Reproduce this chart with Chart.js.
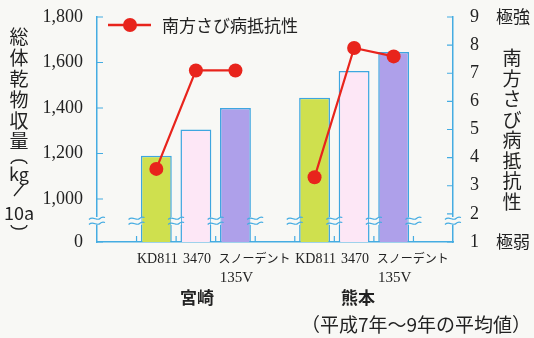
<!DOCTYPE html>
<html>
<head>
<meta charset="utf-8">
<script src="https://cdn.jsdelivr.net/npm/chart.js@4"></script>
<style>
  html, body { margin: 0; padding: 0; background: #f8f8f5; }
  #wrap { width: 534px; height: 338px; }
</style>
</head>
<body>
<div id="wrap"><canvas id="chart" width="534" height="338"></canvas></div>
<script>
// data
const varieties = ['KD811', '3470', ['スノーデント', '135V']];
const regions = ['宮崎', '熊本'];
const yieldMiyazaki = [1190, 1305, 1400];
const yieldKumamoto = [1445, 1563, 1646];
const rustMiyazaki = [3.6, 7.1, 7.1];
const rustKumamoto = [3.3, 7.9, 7.6];
const yieldTicks = [1000, 1200, 1400, 1600, 1800];
const rustTicks = [1, 2, 3, 4, 5, 6, 7, 8, 9];
const rustEnds = { 9: '極強', 1: '極弱' };
const rustName = '南方さび病抵抗性';
const note = '（平成7年～9年の平均値）';

const AXIS = '#45ace2';
const BG = '#f8f8f5';
const RED = '#e8241c';
const INK = '#222';
const fills = ['#cfe04e', '#fde7f6', '#aea0ea'];
const YMIN = 811; // broken axis: bottom shown as 0

// one empty slot before, between and after the two groups
const labels = ['', ...varieties, '', ...varieties, ''];
const yields = [null, ...yieldMiyazaki, null, ...yieldKumamoto, null];
const rust = [null, ...rustMiyazaki, null, ...rustKumamoto, null];
const barColors = [null, ...fills, null, ...fills, null];

const serif = "'Liberation Serif', serif";
const jp = "'Noto Sans CJK JP'";
Chart.defaults.font.family = serif;

function squiggle(ctx, x, y) {
    ctx.save();
    ctx.fillStyle = BG;
    ctx.fillRect(x - 5, y - 4, 10, 8);
    ctx.strokeStyle = AXIS;
    ctx.lineWidth = 1.2;
    [-2.5, 2.5].forEach(dy => {
        ctx.beginPath();
        ctx.moveTo(x - 8, y + dy + 1);
        ctx.bezierCurveTo(x - 4, y + dy - 3, x, y + dy + 3, x + 3, y + dy);
        ctx.quadraticCurveTo(x + 5, y + dy - 2, x + 8, y + dy - 1);
        ctx.stroke();
    });
    ctx.restore();
}

const extras = {
    id: 'extras',
    afterDraw(chart) {
        const { ctx, chartArea: a, scales } = chart;
        const x = scales.x, y = scales.y, y1 = scales.y1;
        ctx.save();
        // inward tick marks
        ctx.strokeStyle = AXIS;
        ctx.lineWidth = 1.2;
        ctx.beginPath();
        y.ticks.forEach((t, i) => {
            const py = y.getPixelForTick(i);
            ctx.moveTo(a.left, py); ctx.lineTo(a.left + 6, py);
        });
        y1.ticks.forEach((t, i) => {
            const py = y1.getPixelForTick(i);
            ctx.moveTo(a.right, py); ctx.lineTo(a.right - 6, py);
        });
        const bounds = [];
        for (let i = 1; i < labels.length; i++) {
            bounds.push((x.getPixelForValue(i - 1) + x.getPixelForValue(i)) / 2);
        }
        bounds.forEach(bx => { ctx.moveTo(bx, a.bottom); ctx.lineTo(bx, a.bottom - 6); });
        ctx.stroke();

        // axis break marks
        [a.left, ...bounds, a.right].forEach(bx => squiggle(ctx, bx, 221));

        // legend
        ctx.strokeStyle = RED;
        ctx.lineWidth = 2.5;
        ctx.beginPath(); ctx.moveTo(108, 25); ctx.lineTo(151, 25); ctx.stroke();
        ctx.fillStyle = RED;
        ctx.beginPath(); ctx.arc(130, 25, 7, 0, Math.PI * 2); ctx.fill();
        ctx.fillStyle = INK;
        ctx.font = `17px ${jp}`;
        ctx.textAlign = 'left';
        ctx.textBaseline = 'middle';
        ctx.fillText(rustName, 162, 26);

        // category labels
        labels.forEach((lab, i) => {
            if (!lab) return;
            const px = x.getPixelForValue(i);
            if (Array.isArray(lab)) {
                ctx.textAlign = 'left';
                ctx.font = `12px ${jp}`;
                ctx.fillText(lab[0], px - 17, 258);
                ctx.textAlign = 'center';
                ctx.font = `15px ${serif}`;
                ctx.fillText(lab[1], px + 1, 278);
            } else {
                ctx.textAlign = 'center';
                ctx.font = `14px ${serif}`;
                ctx.fillText(lab, px + 1, 259);
            }
        });
        ctx.textAlign = 'center';

        // extreme labels on the right axis
        ctx.font = `17px ${jp}`;
        Object.entries(rustEnds).forEach(([v, s]) => ctx.fillText(s, 513, y1.getPixelForValue(+v)));

        // left vertical title
        ctx.font = `19px ${jp}`;
        [['総', 37], ['体', 58], ['乾', 79], ['物', 100], ['収', 121], ['量', 141]]
            .forEach(([s, py]) => ctx.fillText(s, 19, py));
        ctx.font = `18px ${jp}`;
        ctx.fillText('kg', 19, 174);
        ctx.fillText('10a', 19, 213);
        ctx.strokeStyle = INK;
        ctx.lineWidth = 1.3;
        ctx.beginPath(); ctx.moveTo(14, 196); ctx.lineTo(24, 184); ctx.stroke();
        ctx.beginPath(); ctx.ellipse(19, 164, 8, 4, 0, Math.PI, Math.PI * 2); ctx.stroke();
        ctx.beginPath(); ctx.ellipse(19, 225, 8, 4, 0, 0, Math.PI); ctx.stroke();

        // right vertical title
        ctx.font = `19px ${jp}`;
        [...rustName].forEach((s, i) => ctx.fillText(s, 512, 58 + i * 20.5));

        // group names
        ctx.font = `bold 17px ${jp}`;
        regions.forEach((r, g) => ctx.fillText(r, x.getPixelForValue(2 + g * 4) + (g ? 4 : 1), 298));

        // note
        ctx.font = `19px ${jp}`;
        ctx.fillText(note, 416, 325);
        ctx.restore();
    }
};

new Chart(document.getElementById('chart'), {
    type: 'bar',
    data: {
        labels: labels,
        datasets: [{
            type: 'line',
            label: rustName,
            data: rust,
            yAxisID: 'y1',
            borderColor: RED,
            backgroundColor: RED,
            borderWidth: 2.2,
            pointRadius: 7,
            pointBackgroundColor: RED,
            pointBorderWidth: 0,
            spanGaps: false,
            tension: 0,
            order: 0
        }, {
            label: '総体乾物収量',
            data: yields,
            yAxisID: 'y',
            backgroundColor: barColors,
            borderColor: '#3ea6e0',
            borderWidth: 1.5,
            categoryPercentage: 1,
            barPercentage: 0.78,
            order: 1
        }]
    },
    options: {
        responsive: false,
        animation: false,
        layout: { padding: { top: 17, left: 0, right: 0, bottom: 0 } },
        plugins: { legend: { display: false }, tooltip: { enabled: false } },
        scales: {
            x: {
                grid: { display: false },
                border: { color: AXIS, width: 1.5 },
                ticks: { display: false },
                afterFit: s => { s.height = 96; }
            },
            y: {
                position: 'left',
                min: YMIN, max: 1800,
                grid: { display: false, drawTicks: false },
                border: { color: AXIS, width: 1.5 },
                afterBuildTicks: s => { s.ticks = [YMIN, ...yieldTicks].map(v => ({ value: v })); },
                ticks: {
                    color: INK, padding: 14,
                    font: { family: serif, size: 18 },
                    callback: v => v === YMIN ? '0' : v.toLocaleString('en-US')
                },
                afterFit: s => { s.width = 97; s.paddingTop = 0; s.paddingBottom = 0; }
            },
            y1: {
                position: 'right',
                min: 1, max: 9,
                grid: { display: false, drawTicks: false },
                border: { color: AXIS, width: 1.5 },
                afterBuildTicks: s => { s.ticks = rustTicks.map(v => ({ value: v })); },
                ticks: {
                    color: INK, padding: 17,
                    font: { family: serif, size: 18 },
                    callback: v => String(v)
                },
                afterFit: s => { s.width = 81; s.paddingTop = 0; s.paddingBottom = 0; }
            }
        }
    },
    plugins: [extras]
});
</script>
</body>
</html>
